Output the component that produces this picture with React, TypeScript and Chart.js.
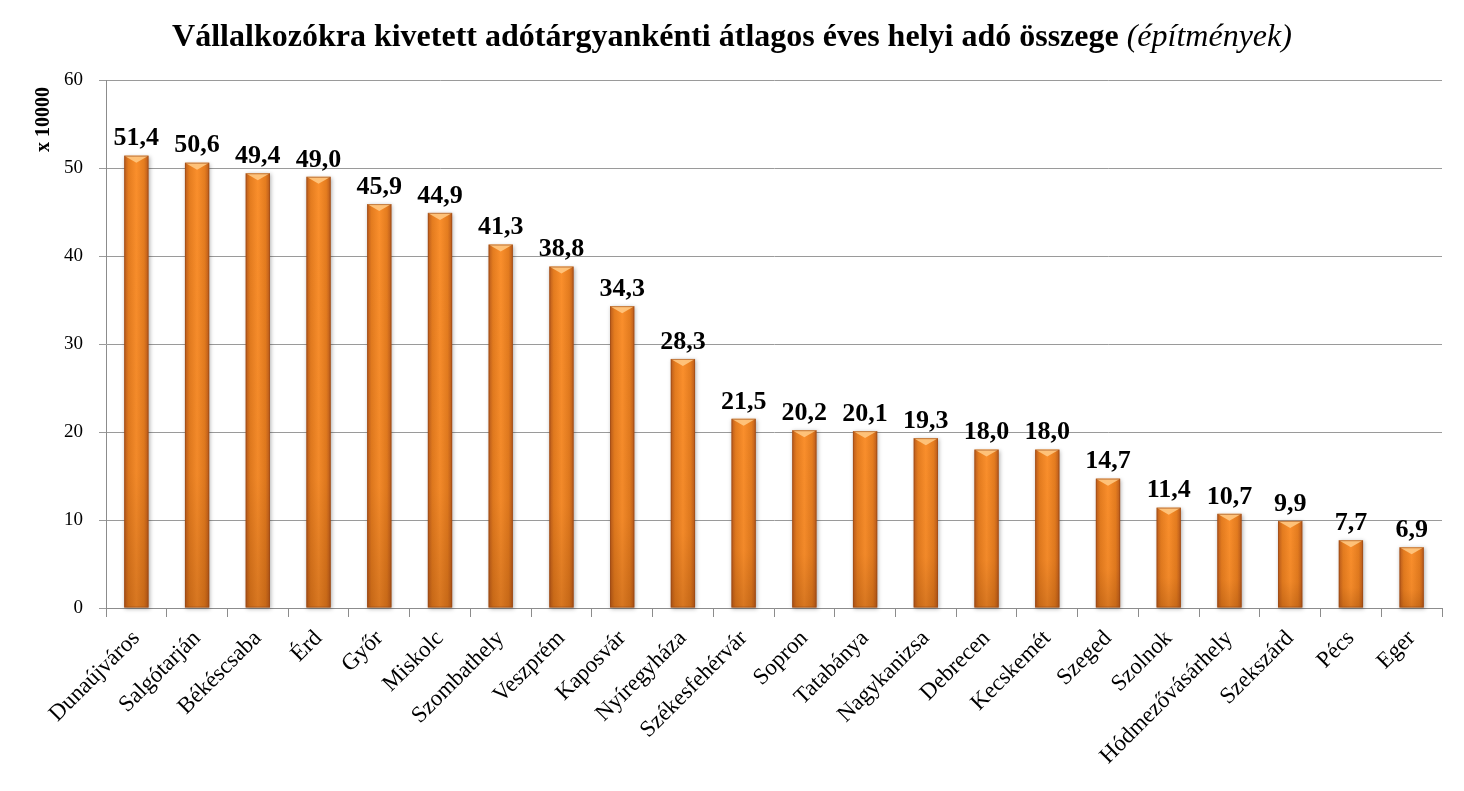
import { useEffect, useRef } from 'react';
import { Chart, registerables } from 'chart.js';
import type { Plugin } from 'chart.js';

Chart.register(...registerables);

const cities = [
  'Dunaújváros', 'Salgótarján', 'Békéscsaba', 'Érd', 'Győr', 'Miskolc',
  'Szombathely', 'Veszprém', 'Kaposvár', 'Nyíregyháza', 'Székesfehérvár',
  'Sopron', 'Tatabánya', 'Nagykanizsa', 'Debrecen', 'Kecskemét', 'Szeged',
  'Szolnok', 'Hódmezővásárhely', 'Szekszárd', 'Pécs', 'Eger',
];
const avgTax = [
  51.4, 50.6, 49.4, 49.0, 45.9, 44.9, 41.3, 38.8, 34.3, 28.3, 21.5,
  20.2, 20.1, 19.3, 18.0, 18.0, 14.7, 11.4, 10.7, 9.9, 7.7, 6.9,
];
const yTicks = [0, 10, 20, 30, 40, 50, 60];
const yAxisTitle = 'x 10000';

const SERIF = '"Liberation Serif", "DejaVu Serif", serif';

// shiny orange bars, value labels, y axis caption
const barLook: Plugin<'bar'> = {
  id: 'barLook',
  afterDatasetsDraw(chart) {
    const ctx = chart.ctx;
    const meta = chart.getDatasetMeta(0);
    meta.data.forEach((el: any, i: number) => {
      const { x, y, base, width } = el.getProps(['x', 'y', 'base', 'width'], true);
      const l = x - width / 2;
      const r = x + width / 2;
      const h = base - y;

      ctx.save();
      ctx.shadowColor = 'rgba(0,0,0,0.3)';
      ctx.shadowBlur = 4;
      ctx.shadowOffsetX = 1;
      ctx.shadowOffsetY = 1;
      const g = ctx.createLinearGradient(l, 0, r, 0);
      g.addColorStop(0, '#b85a1c');
      g.addColorStop(0.18, '#e47c1f');
      g.addColorStop(0.5, '#fa8f2c');
      g.addColorStop(0.82, '#e47c1f');
      g.addColorStop(1, '#b85a1c');
      ctx.fillStyle = g;
      ctx.fillRect(l, y, width, h);
      ctx.restore();

      ctx.save();
      // darker toward the bottom
      const gv = ctx.createLinearGradient(0, y, 0, base);
      gv.addColorStop(0, 'rgba(110,45,0,0)');
      gv.addColorStop(0.7, 'rgba(110,45,0,0.06)');
      gv.addColorStop(1, 'rgba(110,45,0,0.25)');
      ctx.fillStyle = gv;
      ctx.fillRect(l, y, width, h);

      // bevel at the top
      const bev = Math.min(7, h / 2);
      ctx.fillStyle = 'rgba(255,200,130,0.9)';
      ctx.beginPath();
      ctx.moveTo(l, y);
      ctx.lineTo(r, y);
      ctx.lineTo(x, y + bev);
      ctx.closePath();
      ctx.fill();
      ctx.strokeStyle = 'rgba(150,70,20,0.55)';
      ctx.lineWidth = 1;
      ctx.strokeRect(l + 0.5, y + 0.5, width - 1, h - 1);
      ctx.restore();

      ctx.save();
      ctx.fillStyle = '#000';
      ctx.font = `bold 26px ${SERIF}`;
      ctx.textAlign = 'center';
      ctx.textBaseline = 'bottom';
      ctx.fillText(avgTax[i].toFixed(1).replace('.', ','), x, y - 4);
      ctx.restore();
    });

    // rotated axis caption near the top of the y axis
    const top = chart.chartArea.top;
    ctx.save();
    ctx.translate(49, top + 7);
    ctx.rotate(-Math.PI / 2);
    ctx.fillStyle = '#000';
    ctx.font = `bold 20px ${SERIF}`;
    ctx.textAlign = 'right';
    ctx.textBaseline = 'alphabetic';
    ctx.fillText(yAxisTitle, 0, 0);
    ctx.restore();
  },
};

export default function App() {
  const canvasRef = useRef<HTMLCanvasElement>(null);
  const chartRef = useRef<Chart<'bar'> | null>(null);

  useEffect(() => {
    document.body.style.margin = '0';
    if (!canvasRef.current) return;
    if (chartRef.current) chartRef.current.destroy();

    chartRef.current = new Chart(canvasRef.current, {
      type: 'bar',
      data: {
        labels: cities,
        datasets: [{
          data: avgTax,
          backgroundColor: 'rgba(0,0,0,0)',
          barPercentage: 0.4,
          categoryPercentage: 1,
        }],
      },
      options: {
        responsive: false,
        animation: false,
        layout: { padding: { top: 80, right: 22, left: 0, bottom: 0 } },
        plugins: {
          legend: { display: false },
          tooltip: { enabled: false },
        },
        scales: {
          x: {
            offset: true,
            grid: {
              offset: true,
              drawOnChartArea: false,
              drawTicks: true,
              tickLength: 9,
              color: '#8c8c8c',
            },
            border: { color: '#8c8c8c', width: 1 },
            ticks: {
              color: '#000',
              font: { family: SERIF, size: 23 },
              maxRotation: 45,
              minRotation: 45,
              autoSkip: false,
              padding: 8,
            },
            afterFit(scale) { scale.height = 183; },
          },
          y: {
            min: 0,
            max: 60,
            afterBuildTicks(scale) { scale.ticks = yTicks.map(v => ({ value: v })); },
            grid: { color: '#9a9a9a', tickLength: 7 },
            border: { color: '#8c8c8c' },
            ticks: {
              color: '#000',
              font: { family: SERIF, size: 19 },
              padding: 16,
            },
            afterFit(scale) { scale.width = 106; },
          },
        },
      },
      plugins: [barLook],
    });

    return () => {
      if (chartRef.current) {
        chartRef.current.destroy();
        chartRef.current = null;
      }
    };
  }, []);

  return (
    <div style={{ position: 'relative', width: 1464, height: 791, background: '#fff' }}>
      <div
        style={{
          position: 'absolute', top: 17, left: 0, width: 1464, textAlign: 'center',
          fontFamily: SERIF, fontSize: 32, color: '#000', lineHeight: '36px',
        }}
      >
        <b>Vállalkozókra kivetett adótárgyankénti átlagos éves helyi adó összege</b>{' '}
        <i>(építmények)</i>
      </div>
      <canvas ref={canvasRef} width={1464} height={791} />
    </div>
  );
}
